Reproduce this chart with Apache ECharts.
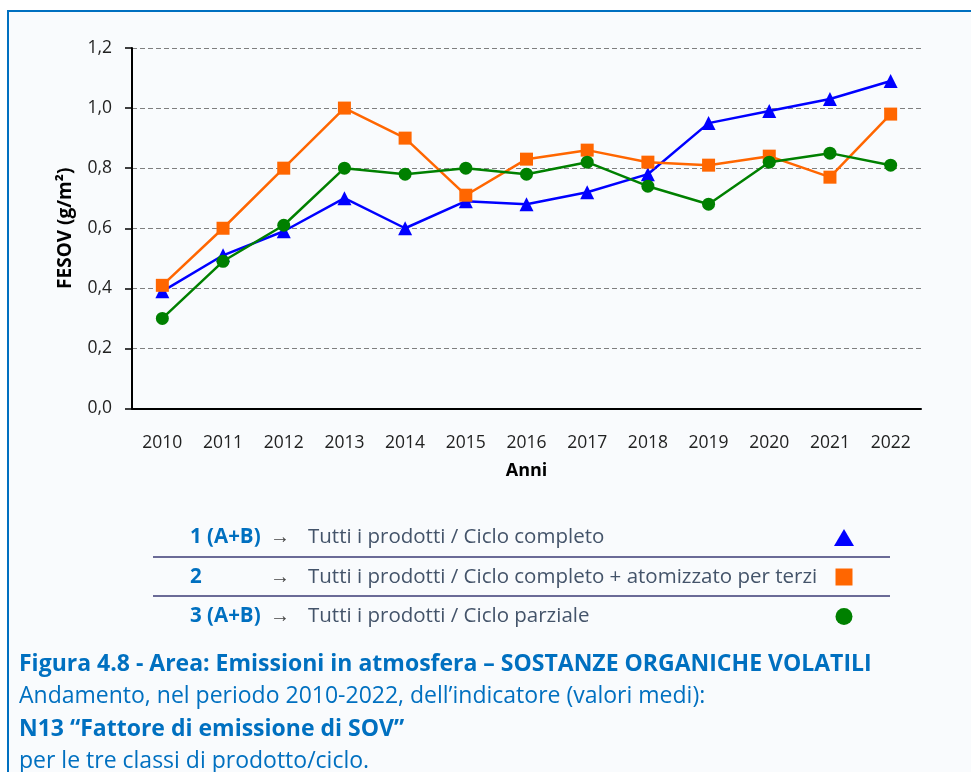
<!DOCTYPE html>
<html>
<head>
<meta charset="utf-8">
<script src="https://cdn.jsdelivr.net/npm/echarts@6/dist/echarts.min.js"></script>
<style>
html,body{margin:0;padding:0;background:#fff;}
#fesovChart{width:971px;height:772px;}
</style>
</head>
<body>
<div id="fesovChart"></div>
<script>
// dati (valori medi FESOV, g/m2)
var anni = ['2010','2011','2012','2013','2014','2015','2016','2017','2018','2019','2020','2021','2022'];
var classe1 = [0.39,0.51,0.59,0.70,0.60,0.69,0.68,0.72,0.78,0.95,0.99,1.03,1.09];
var classe2 = [0.41,0.60,0.80,1.00,0.90,0.71,0.83,0.86,0.82,0.81,0.84,0.77,0.98];
var classe3 = [0.30,0.49,0.61,0.80,0.78,0.80,0.78,0.82,0.74,0.68,0.82,0.85,0.81];

var nomi = ['1 (A+B)', '2', '3 (A+B)'];
var descrizioni = [
    'Tutti i prodotti / Ciclo completo',
    'Tutti i prodotti / Ciclo completo + atomizzato per terzi',
    'Tutti i prodotti / Ciclo parziale'
];

var didascalia = [
    'Figura 4.8 - Area: Emissioni in atmosfera \u2013 SOSTANZE ORGANICHE VOLATILI',
    'Andamento, nel periodo 2010-2022, dell\u2019indicatore (valori medi):',
    'N13 \u201cFattore di emissione di SOV\u201d',
    'per le tre classi di prodotto/ciclo.'
];

var font = '"Open Sans", "Noto Sans", sans-serif';
var blu = '#0070C0';

var myChart = echarts.init(document.getElementById('fesovChart'));

var option = {
    backgroundColor: '#ffffff',
    animation: false,
    textStyle: { fontFamily: font },
    graphic: [
        {
            type: 'rect', z: -10, silent: true,
            shape: { x: 8, y: 11, width: 1000, height: 800 },
            style: { fill: '#F9FBFD', stroke: blu, lineWidth: 2 }
        },
        {
            type: 'line', silent: true,
            shape: { x1: 153, y1: 557, x2: 890, y2: 557 },
            style: { stroke: '#6B6B97', lineWidth: 2 }
        },
        {
            type: 'line', silent: true,
            shape: { x1: 153, y1: 596, x2: 890, y2: 596 },
            style: { stroke: '#6B6B97', lineWidth: 2 }
        },
        {
            type: 'text', left: 19, top: 653,
            style: { text: didascalia[0], fill: blu, font: 'bold 23px ' + font }
        },
        {
            type: 'text', left: 19, top: 685,
            style: { text: didascalia[1], fill: blu, font: '23px ' + font }
        },
        {
            type: 'text', left: 19, top: 718,
            style: { text: didascalia[2], fill: blu, font: 'bold 23px ' + font }
        },
        {
            type: 'text', left: 19, top: 750,
            style: { text: didascalia[3], fill: blu, font: '23px ' + font }
        }
    ],
    legend: {
        orient: 'vertical',
        left: 185,
        top: 522,
        align: 'right',
        itemWidth: 20,
        itemHeight: 17,
        itemGap: 18.5,
        selectedMode: false,
        data: [
            { name: nomi[0], icon: 'triangle' },
            { name: nomi[1], icon: 'path://M0 0H10V10H0Z' },
            { name: nomi[2], icon: 'circle' }
        ],
        formatter: function (name) {
            var i = nomi.indexOf(name);
            return '{num|' + name + '}{arr|\u2192}{txt|' + descrizioni[i] + '}';
        },
        textStyle: {
            rich: {
                num: { width: 80, align: 'left', fontSize: 20.5, fontWeight: 'bold', color: blu, fontFamily: font, lineHeight: 24 },
                arr: { width: 38, align: 'left', fontSize: 20, color: '#444444', fontFamily: font, lineHeight: 24 },
                txt: { width: 521, align: 'left', fontSize: 20.5, color: '#44546A', fontFamily: font, lineHeight: 24 }
            }
        }
    },
    grid: {
        left: 132,
        right: 50,
        top: 48,
        bottom: 363.5
    },
    xAxis: {
        type: 'category',
        data: anni,
        boundaryGap: true,
        name: 'Anni',
        nameLocation: 'middle',
        nameGap: 53,
        nameTextStyle: { fontSize: 18, fontWeight: 'bold', color: '#000', fontFamily: font },
        axisLine: { lineStyle: { color: '#000', width: 2 } },
        axisTick: { alignWithLabel: true, length: 6, lineStyle: { color: '#000', width: 1.5 } },
        axisLabel: { margin: 26, fontSize: 17.5, color: '#222', fontFamily: font }
    },
    yAxis: {
        type: 'value',
        min: 0,
        max: 1.2,
        interval: 0.2,
        name: 'FESOV (g/m\u00b2)',
        nameLocation: 'middle',
        nameGap: 57,
        nameTextStyle: { fontSize: 19, fontWeight: 'bold', color: '#000', fontFamily: font },
        axisLine: { show: true, lineStyle: { color: '#000', width: 2 } },
        axisTick: { show: true, length: 7, lineStyle: { color: '#000', width: 1.5 } },
        axisLabel: {
            margin: 20,
            fontSize: 17.5,
            color: '#222',
            fontFamily: font,
            formatter: function (v) {
                return v.toFixed(1).replace('.', ',');
            }
        },
        splitLine: { lineStyle: { color: '#7F7F7F', width: 1, type: [5, 3] } }
    },
    series: [
        {
            name: nomi[0],
            type: 'line',
            data: classe1,
            color: '#0000FF',
            symbol: 'triangle',
            symbolSize: 14,
            lineStyle: { width: 2.5 },
            z: 2
        },
        {
            name: nomi[1],
            type: 'line',
            data: classe2,
            color: '#FF6600',
            symbol: 'rect',
            symbolSize: 13,
            lineStyle: { width: 2.5 },
            z: 3
        },
        {
            name: nomi[2],
            type: 'line',
            data: classe3,
            color: '#008000',
            symbol: 'circle',
            symbolSize: 13,
            lineStyle: { width: 2.5 },
            z: 4
        }
    ]
};

myChart.setOption(option);

window.onresize = function () {
    myChart.resize();
};
</script>
</body>
</html>
